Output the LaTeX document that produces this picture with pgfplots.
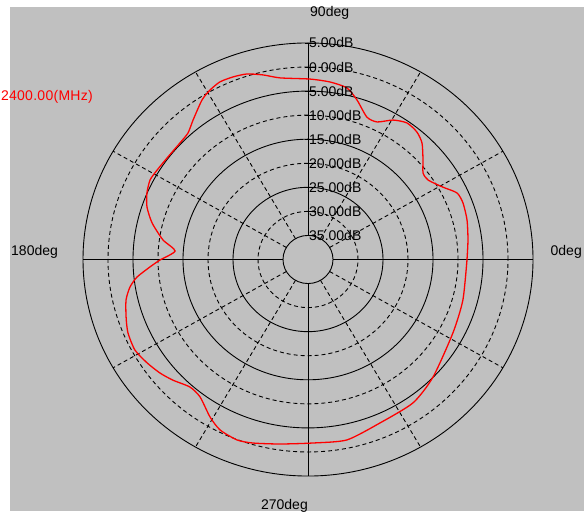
\documentclass[border=0pt]{standalone}
\usepackage{fontspec}
\setmainfont{Liberation Sans}
\usepackage{pgfplots}
\pgfplotsset{compat=1.18}
\usepackage{pgfplotstable}

\definecolor{wingray}{RGB}{192,192,192}

\begin{document}
% radiation pattern at 2400 MHz: angle (deg), gain (dB)
\pgfplotstableread{
deg    dB
0      -8.2
7.2    -7.75
14.5   -7.15
20.8   -6.85
24.9   -7.15
29.1   -9.1
34.5   -10.85
38     -10.8
42     -9.05
46.7   -6.75
50.6   -5.7
55.1   -5.4
59.6   -6.4
64.2   -8.25
68.3   -8.15
73.5   -5.45
77.7   -3.5
83.2   -2.85
89.4   -2.5
98.4   -1.85
103.2  -0.6
107.6  0.45
111.6  0.8
115.5  0.9
119.1  0.3
122.6  -0.65
128.4  -3.0
132.4  -4.4
136.6  -4.75
142.7  -4.8
148.4  -4.55
152.4  -4.35
156.8  -4.95
161.3  -6.0
166.3  -7.9
172.0  -10.7
176.2  -13.35
180.2  -10.4
182.8  -8.35
186.1  -5.6
189.1  -3.95
193.0  -2.65
198.2  -1.7
202.9  -0.9
208.5  -0.6
213.7  -1.3
218.6  -2.15
222.9  -3.15
228.3  -4.5
232.9  -4.2
239.1  -1.85
243.6  -0.45
249.3  0.1
253.9  -0.3
261.7  -1.25
271.5  -1.85
281.7  -1.7
292.9  -3.1
305.2  -3.55
315.7  -5.05
332.3  -7.25
344.8  -7.9
360    -8.2
}\gaindata

\begin{tikzpicture}[x=1bp, y=1bp, every node/.style={font=\fontsize{14bp}{16bp}\selectfont, inner sep=0pt}]
\useasboundingbox (0,0) rectangle (584,513);
\clip (0,0) rectangle (584,513);
\fill[white] (0,0) rectangle (584,513);
\fill[wingray] (10,2) rectangle (584,506);

% grid: rings every 5 dB, spokes every 30 deg
\begin{scope}[shift={(308,253.5)}, x=25bp, y=24.06bp, line width=0.9bp]
  \foreach \k in {1,3,5,7,9} \draw (0,0) ellipse (\k{} and \k);
  \foreach \k in {2,4,6,8} \draw[dash pattern=on 4bp off 3bp] (0,0) ellipse (\k{} and \k);
  \foreach \a in {0,90,180,270} \draw (\a:1) -- (\a:9);
  \foreach \a in {30,60,120,150,210,240,300,330}
    \draw[dash pattern=on 4bp off 3bp] (\a:1) -- (\a:9);
\end{scope}

\begin{axis}[
  at={(0,0)}, anchor=south west,
  scale only axis, width=584bp, height=513bp,
  xmin=-12.32, xmax=11.04, ymin=-10.536, ymax=10.786,
  axis lines=none, clip=false
]
\addplot[red, line width=1.3bp, smooth, tension=0.4] table[
  x expr={(\thisrow{dB}+40)/5*cos(\thisrow{deg})},
  y expr={(\thisrow{dB}+40)/5*sin(\thisrow{deg})}
] {\gaindata};
\end{axis}

% dB labels on the vertical axis
\foreach \k/\lbl in {9/5.00dB,8/0.00dB,7/5.00dB,6/10.00dB,5/15.00dB,4/20.00dB,3/25.00dB,2/30.00dB,1/35.00dB} {
  \pgfmathsetmacro{\yy}{253.5+24.06*\k}
  \draw[line width=0.9bp] (305,\yy) -- (316,\yy);
  \node[anchor=west] at (309,\yy) {\lbl};
}

\node[anchor=west] at (310,500) {90deg};
\node[anchor=west] at (11,261) {180deg};
\node[anchor=east] at (582,261) {0deg};
\node[anchor=east] at (308,7) {270deg};
\node[anchor=east, text=red] at (93,416) {\addfontfeature{LetterSpace=2}2400.00(MHz)};
\end{tikzpicture}
\end{document}
